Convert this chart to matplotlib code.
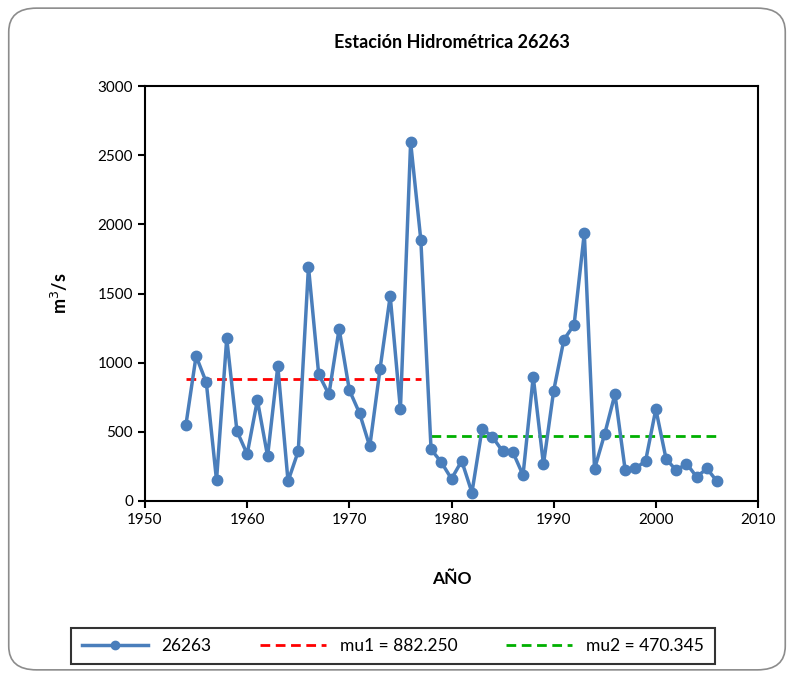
import matplotlib
matplotlib.use("Agg")
import matplotlib.pyplot as plt
from matplotlib.patches import FancyBboxPatch

plt.rcParams['font.family'] = ['Lato', 'DejaVu Sans']

# datos
years = list(range(1954, 2007))
caudal = [548, 1048, 857, 150, 1176, 505, 339, 729, 324, 975,
          143, 360, 1694, 917, 770, 1245, 802, 635, 394, 951,
          1482, 662, 2594, 1885,
          373, 281, 160, 290, 61, 524, 464, 360, 355, 187,
          898, 264, 797, 1166, 1274, 1938, 232, 486, 773, 223,
          235, 290, 664, 305, 221, 271, 174, 235, 141]
mu1_years = [1954, 1977]
mu1 = 882.250
mu2_years = [1978, 2006]
mu2 = 470.345

fig = plt.figure(figsize=(7.94, 6.78), dpi=100)

# marco redondeado del grafico
borde = FancyBboxPatch((0.011, 0.012), 0.978, 0.976,
                       boxstyle="round,pad=0,rounding_size=0.035",
                       transform=fig.transFigure, facecolor="white",
                       edgecolor="#8c8c8c", linewidth=1.2, zorder=-10)
fig.patches.append(borde)

ax = fig.add_axes([145 / 794, 1 - 501 / 678, 613 / 794, 415 / 678])
ax.set_facecolor("none")
ax.plot(years, caudal, color="#4a7ebb", linewidth=2.5, marker="o",
        markersize=7.5, label="26263", zorder=3)
ax.plot(mu1_years, [mu1, mu1], color="#ff0000", linestyle="--",
        linewidth=2, dashes=(3.5, 2), label="mu1 = 882.250", zorder=2)
ax.plot(mu2_years, [mu2, mu2], color="#00b000", linestyle="--",
        linewidth=2, dashes=(3.5, 2), label="mu2 = 470.345", zorder=2)

ax.set_xlim(1950, 2010)
ax.set_ylim(0, 3000)
ax.set_xticks(range(1950, 2011, 10))
ax.set_yticks(range(0, 3001, 500))
ax.tick_params(axis="both", labelsize=11, direction="out", length=5,
               width=1.5, color="black")
for s in ax.spines.values():
    s.set_linewidth(1.5)

ax.set_title("Estación Hidrométrica 26263", fontsize=13,
             fontweight="bold", pad=27)
ax.set_xlabel("AÑO", fontsize=12.5, fontweight="bold", labelpad=32)
ax.set_ylabel("m$^3$/s", fontsize=13, fontweight="bold", labelpad=20)

leg = fig.legend(loc="center", bbox_to_anchor=(393 / 794, 1 - 646 / 678),
                 ncol=3, fontsize=12.5, frameon=True, fancybox=False,
                 edgecolor="black", handlelength=3.8, columnspacing=2.8,
                 borderpad=0.6, markerscale=0.8)
leg.get_frame().set_linewidth(1.5)

plt.savefig("out.png", dpi=100)
plt.close()
